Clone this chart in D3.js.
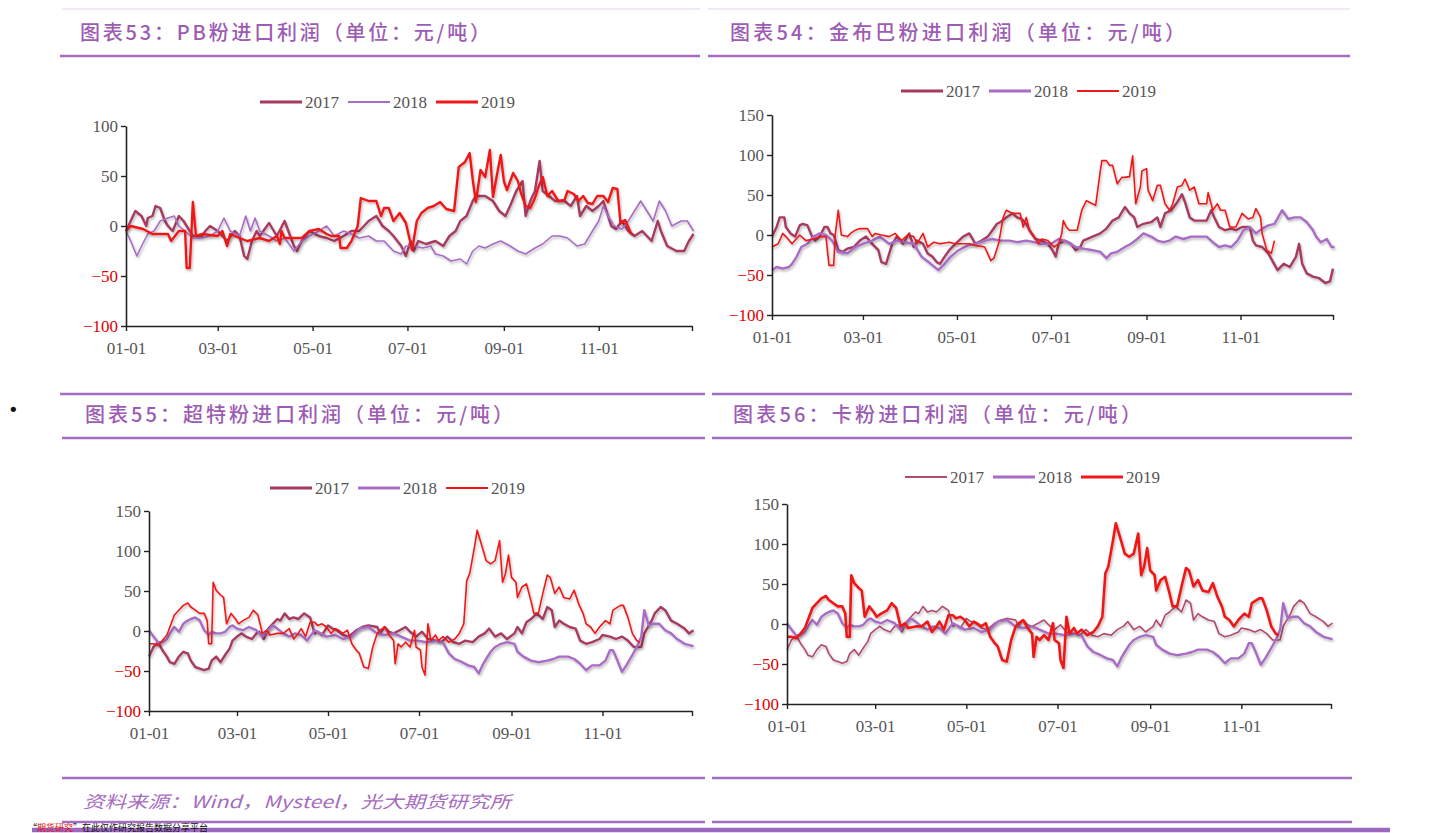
<!DOCTYPE html>
<html><head><meta charset="utf-8">
<script src="https://cdn.jsdelivr.net/npm/d3@7/dist/d3.min.js"></script>
<style>
html,body{margin:0;padding:0;background:#fff;}
svg{display:block;}
</style></head>
<body>
<svg id="c" width="1440" height="833"></svg>
<script>
// ---------- data (day-of-year offset, value in 元/吨) ----------
const monthTicks = ["01-01","03-01","05-01","07-01","09-01","11-01"];
const tickDays = [0,59,120,181,243,304];
const years = ["2017","2018","2019"];
const yTicks1 = [-100,-50,0,50,100];
const yTicks2 = [-100,-50,0,50,100,150];
const titles = ["图表53：PB粉进口利润（单位：元/吨）","图表54：金布巴粉进口利润（单位：元/吨）","图表55：超特粉进口利润（单位：元/吨）","图表56：卡粉进口利润（单位：元/吨）"];
const sourceText = "资料来源：Wind，Mysteel，光大期货研究所";

// 图表53 PB粉
const pb2017 = [[0,-5],[3,5],[6,15],[10,10],[13,0],[14,8],[17,10],[19,20],[22,18],[25,5],[27,0],[30,-5],[34,10],[37,5],[41,-5],[43,-10],[49,-10],[51,-5],[54,0],[59,-5],[65,-15],[70,-5],[73,-10],[76,-30],[78,-33],[81,-15],[84,-5],[86,-10],[92,3],[97,-10],[102,5],[108,-20],[110,-25],[113,-15],[118,-5],[124,-10],[129,-12],[134,-15],[140,-10],[145,-5],[150,-5],[156,5],[161,10],[165,0],[169,-5],[172,-10],[177,-20],[180,-30],[183,-15],[185,-25],[188,-15],[193,-18],[199,-15],[204,-20],[208,-10],[212,-5],[215,5],[219,10],[223,25],[225,30],[231,30],[236,25],[240,15],[244,10],[247,20],[251,35],[255,45],[257,10],[260,25],[263,35],[266,65],[268,35],[272,30],[276,25],[282,25],[286,20],[290,30],[292,10],[296,20],[300,15],[304,20],[307,25],[310,10],[312,0],[315,-3],[319,5],[323,-5],[327,-10],[332,-5],[338,-15],[342,5],[344,-5],[348,-20],[354,-25],[359,-25],[362,-15],[365,-8]];
const pb2018 = [[0,-5],[3,-15],[7,-30],[10,-20],[14,-8],[18,-5],[22,5],[27,8],[31,10],[34,0],[38,-5],[43,-12],[49,-12],[54,-10],[59,-5],[63,8],[67,-5],[73,-10],[77,10],[80,-5],[83,8],[86,-5],[92,-10],[97,-15],[102,-12],[108,-25],[113,-15],[118,-10],[124,-5],[129,0],[134,-10],[140,-5],[145,-8],[150,-12],[156,-10],[161,-15],[166,-15],[172,-25],[177,-28],[180,-20],[185,-20],[191,-22],[196,-20],[199,-28],[204,-30],[209,-35],[215,-33],[219,-38],[223,-25],[227,-20],[231,-22],[236,-18],[241,-15],[247,-20],[252,-25],[257,-28],[263,-22],[268,-18],[274,-10],[279,-10],[284,-12],[290,-20],[295,-18],[300,-5],[304,5],[307,20],[310,10],[314,0],[319,-3],[323,5],[327,15],[331,25],[335,15],[339,5],[343,25],[347,15],[351,0],[357,5],[361,5],[365,-5]];
const pb2019 = [[0,-5],[3,0],[11,-3],[17,-8],[27,-8],[29,-15],[34,-5],[38,-5],[39,-42],[41,-42],[43,24],[45,-10],[49,-8],[59,-10],[62,-5],[65,-20],[67,-8],[73,-12],[78,-15],[86,-12],[92,-15],[97,-10],[99,-18],[100,-5],[102,-12],[113,-12],[118,-5],[124,-3],[129,-8],[132,-10],[137,-10],[138,-22],[142,-22],[145,-15],[149,0],[151,28],[156,25],[161,25],[164,10],[166,18],[169,18],[172,5],[176,13],[180,3],[184,-24],[187,5],[190,13],[194,18],[198,20],[202,24],[206,17],[211,15],[214,59],[218,64],[221,73],[223,46],[225,24],[228,56],[231,49],[234,76],[236,29],[239,55],[241,71],[243,45],[245,36],[249,53],[252,45],[254,33],[257,20],[260,18],[263,28],[265,38],[268,49],[271,30],[274,35],[278,25],[282,26],[284,35],[288,32],[291,25],[294,30],[297,23],[300,22],[303,30],[307,30],[310,24],[313,38],[316,37],[318,3],[321,6],[325,-8]];

// 图表54 金布巴粉
const jb2017 = [[0,-2],[3,10],[5,22],[8,22],[9,10],[12,2],[15,-2],[18,12],[20,14],[23,12],[26,-2],[28,-7],[31,-2],[34,10],[36,10],[38,2],[40,0],[43,-19],[46,-21],[49,-17],[53,-15],[57,-7],[61,-2],[65,-11],[69,-19],[71,-34],[74,-36],[78,-11],[81,-2],[85,-11],[89,2],[92,-15],[94,-7],[98,-11],[101,-23],[104,-27],[107,-34],[109,-36],[112,-27],[115,-19],[119,-11],[124,-2],[128,2],[132,-11],[136,-7],[140,-2],[143,6],[146,14],[148,16],[152,22],[156,27],[159,22],[162,20],[165,14],[167,6],[171,-5],[175,-7],[179,-11],[182,-19],[184,-27],[186,-11],[190,-7],[194,-11],[197,-19],[200,-15],[202,-7],[208,-2],[213,2],[217,8],[221,18],[225,22],[229,35],[232,27],[235,22],[237,10],[241,14],[246,16],[250,22],[252,10],[255,27],[259,31],[263,41],[266,51],[268,41],[271,22],[274,18],[278,18],[282,18],[285,31],[287,22],[290,10],[294,6],[298,8],[301,6],[305,10],[308,10],[310,10],[312,-7],[314,-13],[318,-15],[322,-23],[328,-44],[332,-36],[336,-40],[340,-27],[342,-11],[344,-36],[347,-48],[351,-52],[355,-54],[359,-60],[362,-58],[364,-42]];
const jb2018 = [[0,-44],[3,-40],[7,-42],[11,-40],[13,-36],[16,-27],[19,-15],[23,-11],[27,-2],[31,2],[35,0],[39,-7],[43,-21],[49,-23],[54,-15],[59,-11],[65,-7],[70,-2],[76,-11],[81,-7],[86,-9],[92,-11],[97,-27],[103,-36],[108,-44],[112,-36],[116,-27],[121,-19],[127,-13],[132,-11],[138,-7],[143,-5],[148,-7],[154,-7],[159,-9],[165,-7],[170,-9],[175,-11],[181,-11],[186,-5],[192,-9],[197,-15],[202,-17],[208,-19],[213,-21],[217,-29],[220,-23],[224,-21],[229,-15],[233,-11],[237,-5],[241,2],[246,-2],[250,-7],[254,-9],[258,-7],[262,-2],[267,-5],[272,-2],[278,-2],[282,-2],[286,-9],[290,-15],[294,-13],[298,-15],[302,-7],[306,6],[310,10],[314,2],[318,8],[322,12],[326,14],[331,31],[335,20],[339,22],[343,22],[347,16],[351,6],[353,-2],[356,-9],[360,-5],[363,-15],[365,-15]];
const jb2019 = [[0,-15],[4,-11],[7,2],[9,-2],[13,-11],[18,0],[22,-7],[27,-5],[31,-2],[35,-2],[37,-38],[40,-38],[41,0],[43,31],[45,0],[49,-2],[51,2],[54,6],[57,8],[62,8],[65,-2],[67,2],[71,0],[76,-2],[80,2],[84,-7],[88,0],[92,-2],[94,-11],[98,2],[101,-15],[105,-9],[109,-11],[115,-9],[119,-11],[124,-11],[128,-11],[132,-13],[138,-15],[142,-32],[144,-29],[147,-11],[150,22],[152,31],[154,29],[156,27],[161,27],[163,10],[165,22],[167,6],[170,-2],[173,-11],[175,-5],[179,-7],[183,-15],[186,-11],[188,2],[189,18],[191,10],[193,6],[196,6],[198,6],[201,31],[204,43],[206,41],[210,37],[213,80],[214,93],[217,93],[219,87],[221,87],[224,64],[227,72],[229,72],[232,73],[234,99],[236,39],[239,60],[240,80],[243,83],[244,56],[247,43],[250,62],[252,62],[255,39],[258,31],[260,39],[263,60],[266,62],[268,70],[271,56],[274,60],[277,39],[282,39],[283,53],[286,31],[289,39],[291,31],[294,31],[297,10],[301,10],[305,27],[309,20],[312,22],[314,33],[317,22],[318,2],[321,-19],[324,-23],[326,-7]];

// 图表55 超特粉 (图表56 卡粉 shows the same curves)
const ct2017 = [[0,-32],[3,-20],[6,-14],[9,-24],[12,-32],[14,-39],[17,-41],[20,-32],[23,-26],[26,-28],[28,-37],[31,-45],[34,-47],[37,-49],[40,-47],[42,-37],[45,-32],[48,-39],[51,-30],[54,-22],[56,-12],[59,-7],[62,-3],[65,-7],[69,-10],[72,-3],[74,-1],[77,-10],[80,3],[83,9],[86,15],[88,13],[91,22],[94,15],[97,17],[100,15],[104,22],[108,17],[111,-3],[113,-1],[116,-5],[120,7],[123,3],[126,1],[130,-5],[134,-7],[139,1],[143,5],[147,7],[153,5],[155,-3],[158,5],[161,-1],[164,-3],[168,1],[172,5],[175,-1],[179,-7],[183,-1],[187,-10],[192,-12],[196,-14],[200,-7],[204,-14],[208,-16],[212,-12],[217,-14],[221,-7],[225,-3],[228,3],[232,-7],[236,-3],[240,-10],[245,-3],[247,5],[250,-3],[253,11],[256,15],[260,22],[264,15],[267,30],[270,26],[272,5],[275,13],[278,9],[282,5],[286,3],[289,-12],[293,-16],[297,-14],[302,-10],[304,-5],[309,-7],[313,-10],[317,-7],[321,-12],[325,-20],[330,-20],[332,-3],[337,13],[339,22],[343,30],[346,26],[350,13],[354,9],[359,3],[362,-3],[365,1]];
const ct2018 = [[0,1],[3,-7],[6,-14],[9,-14],[12,-10],[14,-3],[17,5],[20,-1],[23,9],[26,13],[28,15],[31,17],[34,13],[37,1],[40,-5],[42,-1],[45,-3],[48,-3],[51,-1],[54,5],[56,7],[59,3],[63,1],[67,5],[72,1],[76,-7],[80,1],[83,7],[86,3],[90,-3],[94,-7],[98,-3],[102,-5],[106,-12],[111,1],[115,-3],[119,-7],[125,-5],[130,-10],[136,-7],[141,3],[147,5],[153,-3],[158,-5],[164,-3],[169,-7],[175,-12],[180,-12],[186,-14],[192,-12],[197,-14],[201,-28],[205,-35],[210,-39],[214,-43],[218,-45],[221,-53],[224,-41],[226,-35],[229,-26],[232,-20],[236,-16],[240,-14],[245,-16],[247,-26],[251,-32],[256,-37],[261,-39],[267,-37],[271,-35],[275,-32],[281,-32],[285,-35],[289,-41],[293,-49],[297,-43],[302,-43],[306,-37],[309,-24],[311,-24],[314,-37],[317,-51],[320,-43],[324,-30],[327,-20],[330,-7],[332,26],[335,7],[338,9],[342,9],[346,1],[350,-3],[354,-10],[359,-16],[365,-19]];
const ct2019 = [[0,-16],[3,-16],[6,-18],[9,-12],[12,-5],[14,5],[17,20],[20,26],[23,32],[26,35],[28,30],[31,26],[34,22],[37,22],[39,13],[40,-16],[42,-16],[43,61],[45,51],[48,45],[50,42],[52,9],[55,22],[58,15],[60,9],[63,13],[67,17],[70,26],[73,20],[76,-3],[79,1],[81,-5],[86,-3],[90,-3],[94,3],[97,-10],[100,-3],[102,3],[105,-7],[108,11],[111,11],[113,7],[116,9],[119,5],[122,-3],[125,3],[127,1],[130,-3],[133,1],[136,-16],[139,-24],[141,-28],[144,-45],[147,-47],[150,-20],[153,-3],[155,1],[158,5],[161,-5],[164,-12],[165,-41],[167,-16],[169,-20],[172,-14],[175,-20],[178,1],[179,-20],[182,-24],[183,-45],[185,-55],[187,9],[189,-12],[192,-5],[194,-12],[197,-7],[201,-14],[205,-10],[208,-3],[211,9],[213,63],[215,72],[218,103],[220,126],[224,101],[226,88],[229,84],[232,88],[235,113],[237,61],[239,72],[241,95],[243,67],[246,61],[247,42],[250,55],[253,59],[256,38],[258,22],[261,22],[264,47],[267,70],[269,67],[272,47],[275,55],[278,42],[282,40],[285,51],[288,34],[291,22],[293,9],[296,5],[299,-3],[302,5],[306,13],[309,9],[311,26],[316,32],[318,32],[321,17],[324,-3],[327,-12],[329,-14]];

// ---------- rendering ----------
const svg = d3.select("#c");
const PURPLE = "#a46dbf";
const TITLE = "#9c5cb4";
const C17 = "#a63a5e", C18 = "#a86cc6", C19 = "#f01818";

const defs = svg.append("defs");
const f = defs.append("filter").attr("id","sh").attr("x","-5%").attr("y","-20%").attr("width","110%").attr("height","140%");
f.append("feDropShadow").attr("dx",1.2).attr("dy",1.8).attr("stdDeviation",1.2).attr("flood-color","#000").attr("flood-opacity",0.28);

function rule(x1,x2,y,w,c,op){
  svg.append("line").attr("x1",x1).attr("x2",x2).attr("y1",y).attr("y2",y)
    .attr("stroke",c||PURPLE).attr("stroke-width",w||2.6).attr("opacity",op==null?1:op);
}
function title(x,y,t,len){
  svg.append("text").attr("x",x).attr("y",y).text(t)
    .attr("font-family","'Noto Sans CJK SC','Noto Sans',sans-serif").attr("font-size",20)
    .attr("font-weight",500).attr("fill",TITLE)
    .attr("textLength",len).attr("lengthAdjust","spacing");
}

// faint top lines and rules
rule(62,700,9,1.2,"#e4d3ec");
rule(708,1350,9,1.2,"#e4d3ec");
rule(60,700,56,2.6);
rule(708,1350,56,2.6);
rule(60,705,394,2.6);
rule(712,1352,394,2.6);
rule(62,705,438,2.6);
rule(712,1352,438,2.6);
rule(62,705,778,2.6);
rule(712,1352,778,2.6);
rule(62,705,822,2.6);
rule(712,1352,822,2.6);

title(80,40,titles[0],410);
title(730,40,titles[1],455);
title(85,422,titles[2],428);
title(733,422,titles[3],408);

svg.append("text").attr("x",8).attr("y",416).text("•")
  .attr("font-family","'DejaVu Sans',sans-serif").attr("font-size",18).attr("fill","#111");

svg.append("text").attr("x",83).attr("y",808).text(sourceText)
  .attr("font-family","'Noto Sans CJK SC',sans-serif").attr("font-size",17).attr("font-style","italic")
  .attr("fill","#a66cc0").attr("textLength",428).attr("lengthAdjust","spacingAndGlyphs");

// bottom paragraph start (kept small so it stays inside the page)
rule(32,1390,830,4.5,"#9a68bf");
const bt = svg.append("text").attr("x",28).attr("y",831)
  .attr("font-family","'Noto Sans CJK SC',sans-serif").attr("font-size",9).attr("fill","#111");
bt.append("tspan").text("“");
bt.append("tspan").attr("fill","#e01010").text("期货研究");
bt.append("tspan").text("”在此仅作研究报告数据分享平台");

const base = new Date(2019,0,1);
const toDate = d => new Date(2019,0,1+d);

function panel(cfg){
  const x = d3.scaleTime().domain([base,new Date(2019,11,31)]).range([cfg.x0,cfg.x1]);
  const y = d3.scaleLinear().domain([cfg.yTicks[0],cfg.yTicks[cfg.yTicks.length-1]]).range([cfg.yb,cfg.yt]);
  const g = svg.append("g");
  const font = "'Liberation Serif','Times New Roman',serif";

  const line = d3.line().x(d=>x(toDate(d[0]))).y(d=>y(d[1]));
  cfg.series.forEach(s=>{
    g.append("path").datum(s.data).attr("d",line).attr("fill","none")
      .attr("stroke",s.color).attr("stroke-width",s.w).attr("stroke-linejoin","round")
      .attr("filter","url(#sh)");
  });

  const ya = g.append("g").attr("transform",`translate(${cfg.x0},0)`)
    .call(d3.axisLeft(y).tickValues(cfg.yTicks).tickSize(5).tickSizeOuter(0).tickPadding(3).tickFormat(d3.format("d")));
  ya.select(".domain").attr("stroke","#222").attr("stroke-width",1.6);
  ya.selectAll(".tick line").attr("stroke","#222").attr("stroke-width",1.4);
  ya.selectAll(".tick text").attr("font-family",font).attr("font-size",17)
    .attr("fill",d=>d<0?"#e00000":"#555");

  const xt = tickDays.map(toDate).concat([new Date(2019,11,31)]);
  const xa = g.append("g").attr("transform",`translate(0,${cfg.yb})`)
    .call(d3.axisBottom(x).tickValues(xt).tickSize(5).tickSizeOuter(0).tickPadding(11)
      .tickFormat((d,i)=>i<monthTicks.length?monthTicks[i]:""));
  xa.select(".domain").attr("stroke","#222").attr("stroke-width",1.6);
  xa.selectAll(".tick line").attr("stroke","#222").attr("stroke-width",1.4);
  xa.selectAll(".tick text").attr("font-family",font).attr("font-size",17).attr("fill","#555");

  cfg.series.forEach((s,i)=>{
    const lx = cfg.lx + i*88;
    g.append("line").attr("x1",lx).attr("x2",lx+42).attr("y1",cfg.ly).attr("y2",cfg.ly)
      .attr("stroke",s.color).attr("stroke-width",s.w+0.5);
    g.append("text").attr("x",lx+45).attr("y",cfg.ly+6).text(years[i])
      .attr("font-family",font).attr("font-size",17).attr("fill","#555");
  });
}

panel({x0:126,x1:692,yt:126,yb:326,yTicks:yTicks1,lx:260,ly:102,
  series:[{data:pb2017,color:C17,w:2.4},{data:pb2018,color:C18,w:1.6},{data:pb2019,color:C19,w:2.4}]});
panel({x0:772,x1:1333,yt:115,yb:315,yTicks:yTicks2,lx:901,ly:91,
  series:[{data:jb2017,color:C17,w:2.4},{data:jb2018,color:C18,w:2.4},{data:jb2019,color:C19,w:1.6}]});
panel({x0:149,x1:692,yt:511,yb:711,yTicks:yTicks2,lx:270,ly:488,
  series:[{data:ct2017,color:C17,w:2.4},{data:ct2018,color:C18,w:2.4},{data:ct2019,color:C19,w:1.6}]});
panel({x0:787,x1:1331,yt:504,yb:704,yTicks:yTicks2,lx:905,ly:477,
  series:[{data:ct2017,color:"#b24a6c",w:1.6},{data:ct2018,color:C18,w:2.4},{data:ct2019,color:C19,w:2.6}]});
</script>
</body></html>
